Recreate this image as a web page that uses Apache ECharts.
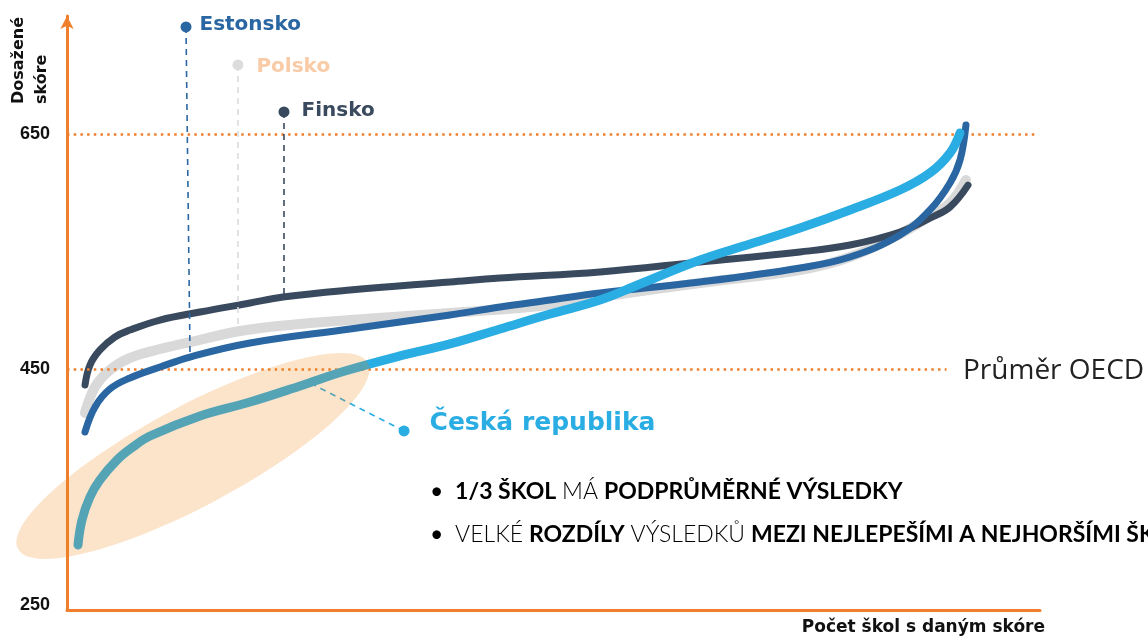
<!DOCTYPE html>
<html>
<head>
<meta charset="utf-8">
<script src="https://cdn.jsdelivr.net/npm/echarts@6/dist/echarts.min.js"></script>
<style>
  html, body { margin: 0; padding: 0; background: #fff; }
  #chart { width: 1148px; height: 637px; }
</style>
</head>
<body>
<div id="chart"></div>
<script>
// tick labels on the score axis
const yTicks = [250, 450, 650]
const oecdAvg = 450
const topLine = 650

// [pořadí školy, skóre]
const finsko = [[1.85, 436.8], [2.36, 453.8], [3.39, 466.6], [4.93, 477.6], [6.47, 483.5], [9.56, 492.0],
  [13.67, 498.8], [18.81, 506.5], [22.2, 511.6], [29.09, 517.5], [39.36, 524.3], [44.5, 527.7],
  [54.78, 532.8], [65.06, 541.3], [75.33, 549.8], [80.47, 555.7], [85.61, 566.8], [88.69, 578.5],
  [90.75, 588.0], [92.6, 606.6]]
const polsko = [[1.85, 413.1], [2.88, 435.1], [4.42, 449.6], [6.47, 459.8], [9.56, 467.4], [13.67, 475.1],
  [17.78, 482.7], [23.95, 488.6], [29.09, 492.0], [39.36, 498.0], [49.64, 504.8], [54.78, 511.6],
  [65.06, 523.5], [75.33, 534.5], [80.47, 545.5], [85.61, 565.1], [88.69, 580.4], [90.75, 591.4],
  [92.39, 611.0]]
const estonsko = [[1.85, 396.9], [2.88, 418.2], [4.42, 433.5], [6.47, 442.8], [9.56, 452.1], [12.64, 460.6],
  [18.81, 472.5], [29.09, 484.4], [39.36, 496.3], [44.5, 503.1], [49.64, 509.0], [54.78, 515.0],
  [65.06, 524.3], [75.33, 536.2], [80.47, 545.5], [85.61, 564.2], [88.69, 585.5], [90.75, 608.4],
  [91.78, 627.9], [92.39, 657.6]]
const cesko = [[1.13, 301.0], [1.54, 322.2], [2.36, 341.7], [3.39, 356.2], [5.14, 373.1], [6.78, 384.2],
  [8.53, 393.5], [13.67, 410.5], [18.81, 422.4], [23.95, 436.0], [28.57, 448.7], [34.22, 461.5],
  [39.36, 471.7], [44.5, 484.4], [49.64, 497.1], [54.78, 509.0], [58.89, 522.6], [65.06, 543.0],
  [70.2, 556.6], [75.33, 570.2], [80.47, 585.5], [85.61, 602.4], [88.69, 616.9], [90.75, 633.9],
  [91.78, 650.9]]

// leader lines of the country labels: [dot, point on the curve]
const leadEstonsko = [[12.23, 740.9], [12.64, 464.9]]
const leadPolsko = [[17.57, 708.6], [17.57, 485.2]]
const leadFinsko = [[22.3, 668.7], [22.3, 514.0]]
const leadCesko = [[34.64, 397.8], [24.77, 439.4]]

const orange = '#EF7F2C'

function curve(name, data, color, width, z) {
  return {
    name: name, type: 'line', data: data, smooth: 0.4,
    symbol: 'none', z: z, silent: true,
    lineStyle: { color: color, width: width, cap: 'round', join: 'round' }
  }
}

function leader(name, pts, color, labelColor, fontSize, gap, dy, z) {
  return {
    name: name + '-popis', type: 'line', data: [
      { value: pts[0], symbolSize: 11, itemStyle: { color: color },
        label: { show: true, position: 'right', distance: gap, offset: [0, dy], formatter: name,
          color: labelColor, fontFamily: 'DejaVu Sans', fontWeight: 'bold', fontSize: fontSize } },
      { value: pts[1], symbolSize: 0 }
    ],
    symbol: 'circle', showAllSymbol: true, z: z, silent: true, animation: false,
    lineStyle: { color: color, width: 1.6, type: [6, 5] }
  }
}

function refLine(value, xEnd) {
  return {
    silent: true, symbol: 'none', label: { show: false },
    lineStyle: { color: orange, width: 2.5, type: [2.5, 4.2] },
    data: [[{ coord: [0, value] }, { coord: [xEnd, value] }]]
  }
}

function getOption() {
  const pol = curve('Polsko', polsko, '#D9D9D9', 10, 3)
  pol.markLine = refLine(topLine, 99.7)
  const fin = curve('Finsko', finsko, '#3A4A5E', 7, 4)
  fin.markLine = refLine(oecdAvg, 90.4)
  return {
    animation: false,
    grid: { left: 67, right: 108, top: 16, bottom: 27 },
    xAxis: {
      type: 'value', min: 0, max: 100,
      axisLine: { onZero: false, lineStyle: { color: orange, width: 3 } },
      axisTick: { show: false }, axisLabel: { show: false }, splitLine: { show: false }
    },
    yAxis: {
      type: 'value', min: 245.75, max: 750.2,
      axisLine: { show: true, onZero: false, symbol: ['none', 'arrow'], symbolSize: [10, 13],
        lineStyle: { color: orange, width: 3 } },
      axisTick: { show: false },
      axisLabel: { customValues: yTicks, margin: 17, color: '#111', fontWeight: 'bold',
        fontSize: 18, fontFamily: 'Liberation Sans' },
      splitLine: { show: false }
    },
    series: [
      pol, fin,
      curve('Estonsko', estonsko, '#2A67A2', 7, 5),
      curve('Česká republika', cesko, '#29ADE3', 9, 6),
      leader('Estonsko', leadEstonsko, '#2A67A2', '#2A67A2', 20, 8, -2, 7),
      leader('Polsko', leadPolsko, '#DCDCDC', '#F9CBA6', 20, 13, 2, 7),
      leader('Finsko', leadFinsko, '#3A4A5E', '#3A4A5E', 20, 12, -1, 7),
      leader('Česká republika', leadCesko, '#29ADE3', '#29ADE3', 25, 20, -7, 7)
    ]
  }
}

const chart = echarts.init(document.getElementById('chart'))
chart.setOption(getOption())

// ellipse around the Czech low end, centred in data coords
const c = chart.convertToPixel({ gridIndex: 0 }, [12.95, 376.5])
const bullet = { fontFamily: 'Lato', fontSize: 23, color: '#111' }
chart.setOption({
  graphic: [
    { type: 'ellipse', x: c[0], y: c[1], rotation: 28 * Math.PI / 180, z: 100, silent: true,
      shape: { cx: 0, cy: 0, rx: 198, ry: 50 },
      style: { fill: 'rgba(241,131,20,0.22)' } },
    { type: 'text', x: 963, y: 371, z: 100,
      style: { text: 'Průměr OECD', fontFamily: 'Open Sans', fontSize: 28, fill: '#222', verticalAlign: 'middle' } },
    { type: 'text', x: 430, y: 492, z: 100,
      style: { text: '•  {b|1/3 ŠKOL} {l|MÁ} {b|PODPRŮMĚRNÉ VÝSLEDKY}', verticalAlign: 'middle',
        ...bullet, rich: { b: { ...bullet, fontWeight: 'bold' }, l: { ...bullet, fontWeight: 300 } } } },
    { type: 'text', x: 430, y: 535, z: 100,
      style: { text: '•  {l|VELKÉ} {b|ROZDÍLY} {l|VÝSLEDKŮ} {b|MEZI NEJLEPEŠÍMI A NEJHORŠÍMI ŠKOLAMI}',
        verticalAlign: 'middle',
        ...bullet, rich: { b: { ...bullet, fontWeight: 'bold' }, l: { ...bullet, fontWeight: 300 } } } },
    { type: 'text', x: 1045, y: 628, z: 100,
      style: { text: 'Počet škol s daným skóre', align: 'right', verticalAlign: 'middle',
        fontFamily: 'DejaVu Sans', fontWeight: 'bold', fontSize: 17, fill: '#111' } },
    { type: 'text', x: 30, y: 104, rotation: Math.PI / 2, z: 100,
      style: { text: 'Dosažené\nskóre', align: 'left', verticalAlign: 'middle', lineHeight: 23,
        fontFamily: 'DejaVu Sans', fontWeight: 'bold', fontSize: 16, fill: '#111' } }
  ]
})
</script>
</body>
</html>
